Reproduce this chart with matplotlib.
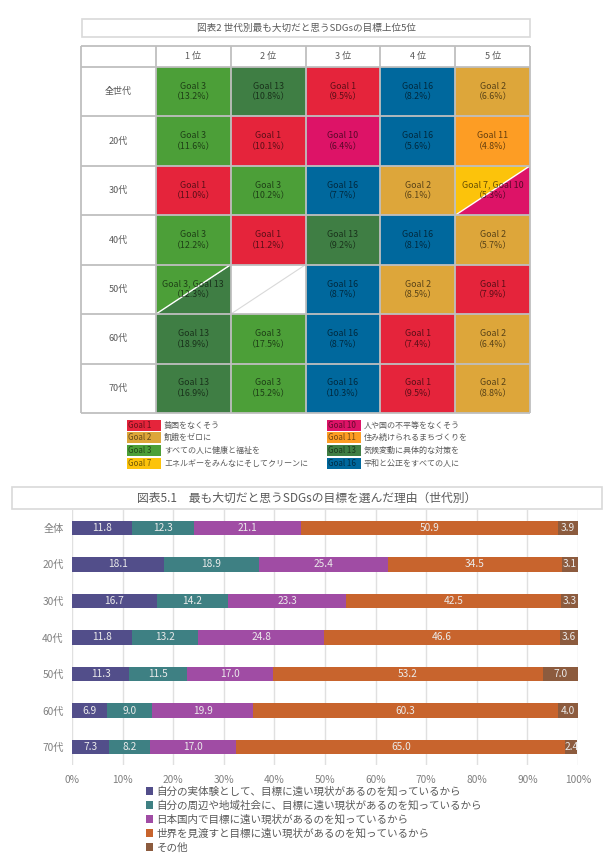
import matplotlib
matplotlib.use('Agg')
import matplotlib.pyplot as plt
from matplotlib.patches import Rectangle, Polygon
import numpy as np

plt.rcParams['font.family'] = ['Noto Sans CJK JP', 'DejaVu Sans']

W, H = 605, 857
fig = plt.figure(figsize=(W / 100, H / 100), dpi=100)


def fx(px):
    return px / W


def fy(py):
    return 1 - py / H


def axes_px(x0, y0, x1, y1):
    return fig.add_axes([x0 / W, 1 - y1 / H, (x1 - x0) / W, (y1 - y0) / H])


# ---------------- data: table ----------------
table_title = '図表2 世代別最も大切だと思うSDGsの目標上位5位'
rank_labels = ['1 位', '2 位', '3 位', '4 位', '5 位']
table_rows = ['全世代', '20代', '30代', '40代', '50代', '60代', '70代']
top_goals = [
    [(3,), (13,), (1,), (16,), (2,)],
    [(3,), (1,), (10,), (16,), (11,)],
    [(1,), (3,), (16,), (2,), (7, 10)],
    [(3,), (1,), (13,), (16,), (2,)],
    [(3, 13), (), (16,), (2,), (1,)],
    [(13,), (3,), (16,), (1,), (2,)],
    [(13,), (3,), (16,), (1,), (2,)],
]
top_pcts = [
    [13.2, 10.8, 9.5, 8.2, 6.6],
    [11.6, 10.1, 6.4, 5.6, 4.8],
    [11.0, 10.2, 7.7, 6.1, 5.3],
    [12.2, 11.2, 9.2, 8.1, 5.7],
    [12.3, None, 8.7, 8.5, 7.9],
    [18.9, 17.5, 8.7, 7.4, 6.4],
    [16.9, 15.2, 10.3, 9.5, 8.8],
]
goal_ids = [1, 2, 3, 7, 10, 11, 13, 16]
goal_names = ['貧困をなくそう', '飢餓をゼロに', 'すべての人に健康と福祉を',
              'エネルギーをみんなにそしてクリーンに', '人や国の不平等をなくそう',
              '住み続けられるまちづくりを', '気候変動に具体的な対策を',
              '平和と公正をすべての人に']
goal_colors = {1: '#E5243B', 2: '#DDA63A', 3: '#4C9F38', 7: '#FCC30B',
               10: '#DD1367', 11: '#FD9D24', 13: '#3F7E44', 16: '#00689D'}

# ---------------- data: bar chart ----------------
chart_title = '図表5.1　最も大切だと思うSDGsの目標を選んだ理由（世代別）'
groups = ['全体', '20代', '30代', '40代', '50代', '60代', '70代']
reasons = ['自分の実体験として、目標に遠い現状があるのを知っているから',
           '自分の周辺や地域社会に、目標に遠い現状があるのを知っているから',
           '日本国内で目標に遠い現状があるのを知っているから',
           '世界を見渡すと目標に遠い現状があるのを知っているから',
           'その他']
reason_vals = [
    [11.8, 18.1, 16.7, 11.8, 11.3, 6.9, 7.3],
    [12.3, 18.9, 14.2, 13.2, 11.5, 9.0, 8.2],
    [21.1, 25.4, 23.3, 24.8, 17.0, 19.9, 17.0],
    [50.9, 34.5, 42.5, 46.6, 53.2, 60.3, 65.0],
    [3.9, 3.1, 3.3, 3.6, 7.0, 4.0, 2.4],
]
reason_colors = ['#524E8A', '#3E8083', '#A04CA4', '#C8642D', '#8C5B3E']
x_ticks = [0, 10, 20, 30, 40, 50, 60, 70, 80, 90, 100]

GRAY_TXT = '#595959'
GRID = '#BFBFBF'

# ---------------- title boxes ----------------
def title_box(x0, y0, x1, y1, text, size):
    fig.add_artist(Rectangle((fx(x0), fy(y1)), fx(x1) - fx(x0), fy(y0) - fy(y1),
                             transform=fig.transFigure, facecolor='white',
                             edgecolor='#D9D9D9', lw=1.2))
    fig.text(fx((x0 + x1) / 2), fy((y0 + y1) / 2), text, ha='center', va='center',
             fontsize=size, color=GRAY_TXT)

title_box(82, 19, 530, 37, table_title, 6.9)
title_box(12, 487, 602, 509, chart_title, 8.5)

# ---------------- table ----------------
axt = axes_px(81, 46, 530, 413)
h0 = 0.425
nr = len(table_rows)
axt.set_xlim(0, 6)
axt.set_ylim(h0 + nr, 0)
axt.axis('off')

for r in range(nr):
    y0 = h0 + r
    axt.text(0.5, y0 + 0.5, table_rows[r], ha='center', va='center',
             fontsize=6.5, color=GRAY_TXT)
    for c in range(5):
        x0 = c + 1
        g = top_goals[r][c]
        p = top_pcts[r][c]
        if len(g) == 1:
            axt.add_patch(Rectangle((x0, y0), 1, 1, facecolor=goal_colors[g[0]],
                                    edgecolor='none'))
        elif len(g) == 2:
            axt.add_patch(Polygon([(x0, y0), (x0 + 1, y0), (x0, y0 + 1)],
                                  facecolor=goal_colors[g[0]], edgecolor='none'))
            axt.add_patch(Polygon([(x0 + 1, y0), (x0 + 1, y0 + 1), (x0, y0 + 1)],
                                  facecolor=goal_colors[g[1]], edgecolor='none'))
            axt.plot([x0, x0 + 1], [y0 + 1, y0], color='white', lw=1.0)
        else:
            axt.plot([x0, x0 + 1], [y0 + 1, y0], color='#D9D9D9', lw=0.8)
        if g:
            label = ', '.join(f'Goal {k}' for k in g)
            axt.text(x0 + 0.5, y0 + 0.5, f'{label}\n（{p:.1f}%）', ha='center',
                     va='center', fontsize=6.4, color='black', alpha=0.6,
                     linespacing=1.25)

for c in range(5):
    axt.text(c + 1.5, h0 / 2, rank_labels[c], ha='center', va='center',
             fontsize=6.5, color=GRAY_TXT)

ybounds = [0] + [h0 + i for i in range(nr + 1)]
axt.hlines(ybounds, 0, 6, color=GRID, lw=1.3, clip_on=False)
axt.vlines(range(7), 0, h0 + nr, color=GRID, lw=1.3, clip_on=False)

# ---------------- goal legend ----------------
axl = axes_px(120, 418, 530, 470)
axl.set_xlim(120, 530)
axl.set_ylim(470, 418)
axl.axis('off')
col_x = [127, 327]
row_y = [425, 437.5, 450, 463]
for i, gid in enumerate(goal_ids):
    cx = col_x[i // 4]
    ry = row_y[i % 4]
    axl.add_patch(Rectangle((cx, ry - 5.5), 34, 11, facecolor=goal_colors[gid],
                            edgecolor='none'))
    axl.text(cx + 1, ry, f'Goal {gid}', ha='left', va='center', fontsize=5.8,
             color='black', alpha=0.55)
    axl.text(cx + 37, ry, goal_names[i], ha='left', va='center', fontsize=5.8,
             color=GRAY_TXT)

# ---------------- stacked bar chart ----------------
ax = axes_px(72, 510, 578, 765)
ypos = np.arange(len(groups))
left = np.zeros(len(groups))
handles = []
for vals, col, lab in zip(reason_vals, reason_colors, reasons):
    v = np.array(vals)
    bars = ax.barh(ypos, v, left=left, height=0.4, color=col, label=lab, zorder=3)
    ax.bar_label(bars, labels=[f'{x:.1f}' for x in v], label_type='center',
                 fontsize=7.3, color='#EBEBEB')
    handles.append(bars)
    left += v

ax.set_xlim(0, 100)
ax.set_ylim(6.49, -0.49)
ax.set_yticks(ypos)
ax.set_yticklabels(groups)
ax.set_xticks(x_ticks)
ax.set_xticklabels([f'{t}%' for t in x_ticks])
ax.tick_params(axis='both', length=0, labelsize=7.3, labelcolor='#7F7F7F')
ax.tick_params(axis='x', pad=7)
ax.tick_params(axis='y', pad=6)
ax.grid(axis='x', color='#E0E0E0', lw=1.0, zorder=0)
for s in ax.spines.values():
    s.set_visible(False)

fig.legend(handles, reasons, loc='upper left', bbox_to_anchor=(fx(146), fy(786)),
           frameon=False, fontsize=7.6, handlelength=0.7, handleheight=0.7,
           handletextpad=0.3, labelspacing=0.34, borderpad=0, borderaxespad=0,
           labelcolor=GRAY_TXT)

fig.savefig('out.png', dpi=100, facecolor='white')
